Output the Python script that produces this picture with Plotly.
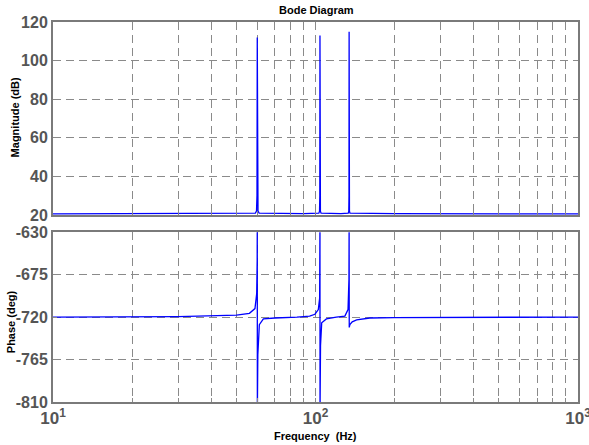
import plotly.graph_objects as go

# ---- data ----
mag_freq = [10, 50, 59.0, 59.6, 59.85, 60.0, 60.15, 60.4, 61.0, 90, 103.0, 103.6, 103.85, 104.0,
            104.15, 104.4, 105.0, 125, 133.3, 133.9, 134.15, 134.3, 134.45, 134.7, 135.3, 200, 1000]
mag_db = [20.6, 20.7, 21.0, 22.0, 30.0, 112.0, 30.0, 22.0, 21.0, 20.7, 21.0, 22.0, 30.0, 113.0,
          30.0, 22.0, 21.0, 20.7, 21.0, 22.0, 30.0, 115.0, 30.0, 22.0, 21.0, 20.7, 20.6]

ph_freq = [10, 30, 50, 56, 58.8, 59.7, 59.95, 60.0, 60.05, 60.3, 61.1, 63.3, 70, 85, 95, 99.5,
           102.5, 103.7, 103.95, 104.0, 104.05, 104.5, 105.6, 110, 120, 129.4, 133.0, 134.1,
           134.3, 134.45, 135.2, 138, 143.5, 161, 200, 1000]
ph_deg = [-720, -719.5, -718, -716, -711, -695, -660, -620, -820, -760, -728, -722, -721, -720,
          -719, -717, -712, -700, -650, -620, -820, -750, -726, -722, -720, -719, -712, -680,
          -620, -731, -728, -725, -723, -721, -720.5, -720]

x_major = [10, 100, 1000]
x_major_text = ["10<sup>1</sup>", "10<sup>2</sup>", "10<sup>3</sup>"]
x_minor = [m * d for d in (10, 100) for m in range(2, 10)]
mag_ticks = [20, 40, 60, 80, 100, 120]
mag_tick_text = ["20", "40", "60", "80", "100", "120"]
ph_ticks = [-810, -765, -720, -675, -630]
ph_tick_text = ["-810", "-765", "-720", "-675", "-630"]

title_text = "Bode Diagram"
mag_label = "Magnitude (dB)"
ph_label = "Phase (deg)"
x_label = "Frequency  (Hz)"

# ---- figure ----
GRID = "#8a8a8a"
FRAME = "#7a7a7a"
TICKC = "#555555"
FONT = "Liberation Sans, Arial, sans-serif"

fig = go.Figure()
fig.add_trace(go.Scatter(x=mag_freq, y=mag_db, mode="lines",
                         line=dict(color="#0000ff", width=1.3), xaxis="x", yaxis="y",
                         showlegend=False))
fig.add_trace(go.Scatter(x=ph_freq, y=ph_deg, mode="lines",
                         line=dict(color="#0000ff", width=1.3), xaxis="x2", yaxis="y2",
                         showlegend=False))

xtickvals = sorted(x_major + x_minor)
xticktext_bottom = [x_major_text[x_major.index(v)] if v in x_major else "" for v in xtickvals]

common_x = dict(type="log", range=[1, 3], tickvals=xtickvals, showgrid=True,
                gridcolor=GRID, griddash="8px,5px", gridwidth=1,
                showline=True, linecolor=FRAME, linewidth=2, mirror=True,
                ticks="inside", ticklen=4, tickcolor=GRID, zeroline=False,
                automargin=False, ticklabeloverflow="allow")
common_y = dict(showgrid=True, gridcolor=GRID, griddash="8px,5px", gridwidth=1,
                showline=True, linecolor=FRAME, linewidth=2, mirror=True,
                ticks="inside", ticklen=4, tickcolor=GRID, zeroline=False,
                tickfont=dict(family=FONT, size=16, color=TICKC, weight="bold"),
                automargin=False, ticklabeloverflow="allow")

fig.update_layout(
    width=589, height=445,
    margin=dict(l=53, r=11, t=22, b=43),
    paper_bgcolor="white", plot_bgcolor="white",
    font=dict(family=FONT),
    xaxis=dict(common_x, domain=[0, 1], anchor="y", showticklabels=False, matches="x2"),
    xaxis2=dict(common_x, domain=[0, 1], anchor="y2", ticktext=xticktext_bottom,
                tickfont=dict(family=FONT, size=17, color=TICKC, weight="bold")),
    yaxis=dict(common_y, domain=[0.492, 1], range=[20, 120], tickvals=mag_ticks,
               ticktext=mag_tick_text),
    yaxis2=dict(common_y, domain=[0, 0.447], range=[-810, -630], tickvals=ph_ticks,
                ticktext=ph_tick_text),
    annotations=[
        dict(text="<b>" + title_text + "</b>", xref="paper", yref="paper", x=0.502, y=1,
             yshift=4, xanchor="center", yanchor="bottom", showarrow=False,
             font=dict(family=FONT, size=11, color="black")),
        dict(text="<b>" + x_label + "</b>", xref="paper", yref="paper", x=0.5, y=0,
             yshift=-26, xanchor="center", yanchor="top", showarrow=False,
             font=dict(family=FONT, size=11, color="black")),
        dict(text="<b>" + mag_label + "</b>", xref="paper", yref="paper", x=0, y=0.749,
             xshift=-38, xanchor="center", yanchor="middle", textangle=-90, showarrow=False,
             font=dict(family=FONT, size=11, color="black")),
        dict(text="<b>" + ph_label + "</b>", xref="paper", yref="paper", x=0, y=0.21,
             xshift=-42, xanchor="center", yanchor="middle", textangle=-90, showarrow=False,
             font=dict(family=FONT, size=11, color="black")),
    ],
)

fig.write_html("out.html", config={"displayModeBar": False},
               post_script="document.body.style.margin='0';document.body.style.overflow='hidden';")
